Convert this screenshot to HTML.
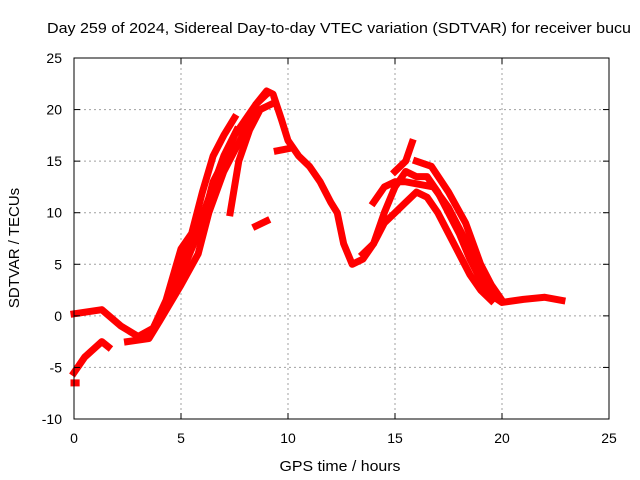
<!DOCTYPE html>
<html><head><meta charset="utf-8"><style>
body{margin:0;background:#fff}
svg{display:block;font-family:"Liberation Sans",sans-serif}
</style></head><body>
<svg id="c" width="640" height="480">
<rect width="640" height="480" fill="#fff"/>
<g id="grid"></g><g id="marks"></g><g id="axes"></g>
<text x="339" y="33" font-size="15" text-anchor="middle" textLength="584" lengthAdjust="spacingAndGlyphs">Day 259 of 2024, Sidereal Day-to-day VTEC variation (SDTVAR) for receiver bucu</text>
<text x="340" y="471" font-size="15" text-anchor="middle" textLength="121" lengthAdjust="spacingAndGlyphs">GPS time / hours</text>
<text x="19" y="248" font-size="15" text-anchor="middle" transform="rotate(-90 19 248)">SDTVAR / TECUs</text>
</svg>
<script>
const xTicks=[0,5,10,15,20,25];
const yTicks=[-10,-5,0,5,10,15,20,25];
const s1=[[0,0.2],[1.3,0.6],[2.2,-1],[3,-2],[3.7,-1.2],[4.3,1.5],[5,6.5],[5.5,8],[6,12],[6.5,15.5],[7,17.5],[7.5,19.2]];
const s2=[[3.7,-1.2],[4.5,2],[5.2,5],[6,9],[6.5,13],[7,15],[7.5,17.5],[8,19],[8.5,20.5],[9,21.8],[9.3,21.5],[9.7,19],[10,17],[10.5,15.5],[11,14.5],[11.5,13],[12,11],[12.3,10],[12.6,7],[13,5],[13.5,5.5],[14,7],[14.5,10],[15,12.5],[15.5,14],[16,13.5],[16.5,13.5],[17,12],[17.5,10],[18,8],[18.5,5.5],[19,3.5],[19.5,2],[20,1.3],[21,1.6],[22,1.8],[22.8,1.5]];
const s3=[[2.5,-2.5],[3.5,-2.2],[4,-0.5],[5,3],[5.8,6],[6.3,10],[7,14],[7.5,16],[8,18],[8.5,20.5],[9,21.5]];
const s4=[[7.3,10],[7.7,15],[8.2,18],[8.7,20],[9.2,20.5]];
const s5=[[8.5,8.7],[9,9.2]];
const s6=[[9.5,16],[10,16.2]];
const s7=[[0,-5.5],[0.5,-4],[1.3,-2.5],[1.6,-3]];
const s8=[[13.5,6],[14,7],[14.5,9],[15,10],[15.5,11],[16,12],[16.5,11.5],[17,10],[17.5,8],[18,6],[18.5,4],[19,2.5],[19.5,1.5]];
const s9=[[15,14],[15.5,15],[15.8,16.8]];
const s10=[[16,15],[16.7,14.5],[17.5,12],[18.3,9],[19,5],[19.5,3],[20,1.5]];
const s11=[[14,11],[14.5,12.5],[15,13],[15.5,13],[16,12.8],[16.8,12.5],[17.5,10.5],[18.5,6.5],[19.2,3]];
const s12=[[0,-6.5],[0.1,-6.5]];
const s13=[[4.5,2.5],[5.2,6],[5.8,8.5],[6.4,12],[7,15.5],[7.6,18]];
const series=[s1,s2,s3,s4,s5,s6,s7,s8,s9,s10,s11,s12,s13];
const X0=74,X1=609,Y0=419,Y1=58;
const xs=h=>X0+(h-0)/25*(X1-X0);
const ys=v=>Y0-(v+10)/35*(Y0-Y1);
const NS="http://www.w3.org/2000/svg";
const grid=document.getElementById('grid'),axes=document.getElementById('axes'),marks=document.getElementById('marks');
function mk(t,a,p){const e=document.createElementNS(NS,t);for(const k in a)e.setAttribute(k,a[k]);p.appendChild(e);return e;}
xTicks.forEach(t=>{const x=xs(t);
 const g=mk('line',{x1:x,x2:x,y1:Y1,y2:Y0,stroke:'#a0a0a0','stroke-dasharray':'2,3'},grid);
 
 
 const tk=mk('text',{x:x,y:Y0+24,'font-size':14,'text-anchor':'middle'},axes);tk.textContent=t;
 
 
 mk('line',{x1:x,x2:x,y1:Y0,y2:Y0-6,stroke:'#000'},axes);mk('line',{x1:x,x2:x,y1:Y1,y2:Y1+6,stroke:'#000'},axes);
});
yTicks.forEach(t=>{const y=ys(t);
 const g=mk('line',{x1:X0,x2:X1,y1:y,y2:y,stroke:'#a0a0a0','stroke-dasharray':'2,3'},grid);
 
 
 const tk=mk('text',{x:X0-12,y:y+5,'font-size':14,'text-anchor':'end'},axes);tk.textContent=t;
 
 
 mk('line',{x1:X0,x2:X0+6,y1:y,y2:y,stroke:'#000'},axes);mk('line',{x1:X1,x2:X1-6,y1:y,y2:y,stroke:'#000'},axes);
});
const fr=mk('rect',{x:X0,y:Y1,width:X1-X0,height:Y0-Y1,fill:'none',stroke:'#000'},axes);


series.forEach((s,i)=>{
 const p=mk('polyline',{points:s.map(d=>xs(d[0])+','+ys(d[1])).join(' '),fill:'none',stroke:'#ff0000','stroke-width':7,'stroke-linejoin':'round','stroke-linecap':'square'},marks);
 
 
});
</script>
</body></html>
